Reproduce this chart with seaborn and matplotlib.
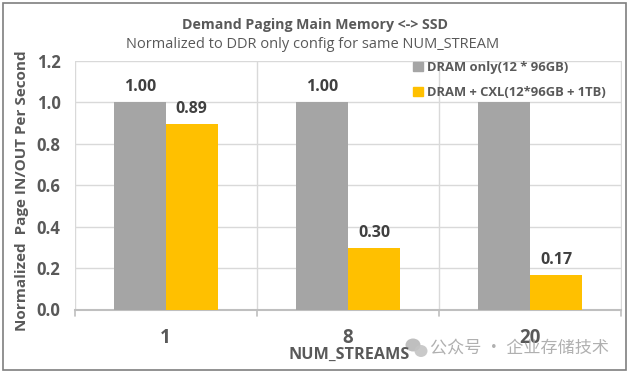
import pandas as pd
import matplotlib.pyplot as plt
from matplotlib.patches import Ellipse, Rectangle
import seaborn as sns

streams = ["1", "8", "20"]
dram_only = [1.00, 1.00, 1.00]
dram_cxl = [0.895, 0.295, 0.165]
# third 1.00 label is not shown in the reference
value_labels = [["1.00", "1.00", ""], ["0.89", "0.30", "0.17"]]
series_names = ["DRAM only(12 * 96GB)", "DRAM + CXL(12*96GB + 1TB)"]

W, H = 629, 373
sns.set_style("white")
plt.rcParams["font.family"] = ["Open Sans", "DejaVu Sans"]

df = pd.DataFrame({
    "streams": streams * 2,
    "value": dram_only + dram_cxl,
    "series": [series_names[0]] * 3 + [series_names[1]] * 3,
})

fig = plt.figure(figsize=(W / 100, H / 100), dpi=100)
ax = fig.add_axes([74.5 / W, 1 - 309.5 / H, 547 / W, 248.5 / H])

sns.barplot(data=df, x="streams", y="value", hue="series", palette=["#A5A5A5", "#FFC000"],
            width=0.57, dodge=True, gap=0, saturation=1, linewidth=0, ax=ax, legend=False, zorder=3)

ax.set_ylim(0, 1.2)
ax.set_xlim(-0.5, 2.5)
ax.set_yticks([0, 0.2, 0.4, 0.6, 0.8, 1.0, 1.2])
ax.set_yticklabels(["0.0", "0.2", "0.4", "0.6", "0.8", "1.0", "1.2"],
                   fontsize=12, fontweight="bold", color="#595959")
ax.set_xticks([0, 1, 2])
ax.set_xticklabels(streams, fontsize=13.5, fontweight="bold", color="#595959")
ax.tick_params(axis="x", length=0, pad=13)
ax.tick_params(axis="y", length=0, pad=10)
ax.set_xlabel("")
ax.set_ylabel("")

# grid: horizontal lines plus the category separators
ax.grid(axis="y", color="#D9D9D9", lw=1, zorder=0)
for x in [-0.5, 0.5, 1.5, 2.5]:
    ax.axvline(x, color="#D9D9D9", lw=1, zorder=0)
    ax.plot([x, x], [0, -0.03], color="#BFBFBF", lw=1.2, clip_on=False)
for side in ["top", "right", "left"]:
    ax.spines[side].set_visible(False)
ax.spines["bottom"].set_color("#BFBFBF")
ax.spines["bottom"].set_linewidth(1.5)

for container, labels in zip(ax.containers, value_labels):
    ax.bar_label(container, labels=labels, padding=5, fontsize=11.5, fontweight="bold", color="#404040")

# legend sits over the plot with no frame
handles = [Rectangle((0, 0), 1, 1, color=c) for c in ["#A5A5A5", "#FFC000"]]
ax.legend(handles, series_names, loc="upper left", bbox_to_anchor=(0.603, 1.035), frameon=False,
          prop={"size": 9.4, "weight": "bold"}, labelcolor="#595959", handlelength=0.7, handleheight=0.7,
          handletextpad=0.35, labelspacing=0.9, borderpad=0.2)

fig.text(314.5 / W, 1 - 25 / H, "Demand Paging Main Memory <-> SSD", ha="center", va="center",
         fontsize=10.2, fontweight="bold", color="#595959")
fig.text(313 / W, 1 - 44 / H, "Normalized to DDR only config for same NUM_STREAM", ha="center", va="center",
         fontsize=10.55, color="#595959")
fig.text(349 / W, 1 - 355 / H, "NUM_STREAMS", ha="center", va="center",
         fontsize=11.6, fontweight="bold", color="#595959")
fig.text(22 / W, 1 - 190.5 / H, "Normalized  Page IN/OUT Per Second", ha="center", va="center", rotation=90,
         fontsize=11, fontweight="bold", color="#595959")

# outer chart border
fig.add_artist(Rectangle((2.5 / W, 1 - 370 / H), 623 / W, 367 / H, transform=fig.transFigure,
                         fill=False, ec="#7F7F7F", lw=1.2))

# watermark
fig.add_artist(Ellipse((413 / W, 1 - 345 / H), 15 / W, 13 / H, transform=fig.transFigure,
                       color="#B4B4B4", alpha=0.85, lw=0))
fig.add_artist(Ellipse((421 / W, 1 - 351 / H), 13 / W, 12 / H, transform=fig.transFigure,
                       color="#C4C4C4", alpha=0.9, lw=0))
fig.text(430 / W, 1 - 348 / H, "公众号 · 企业存储技术", ha="left", va="center", fontsize=12.3,
         color="#A8A8A8", alpha=0.9, family=["Noto Sans CJK SC", "DejaVu Sans"])

fig.savefig("out.png", dpi=100)
